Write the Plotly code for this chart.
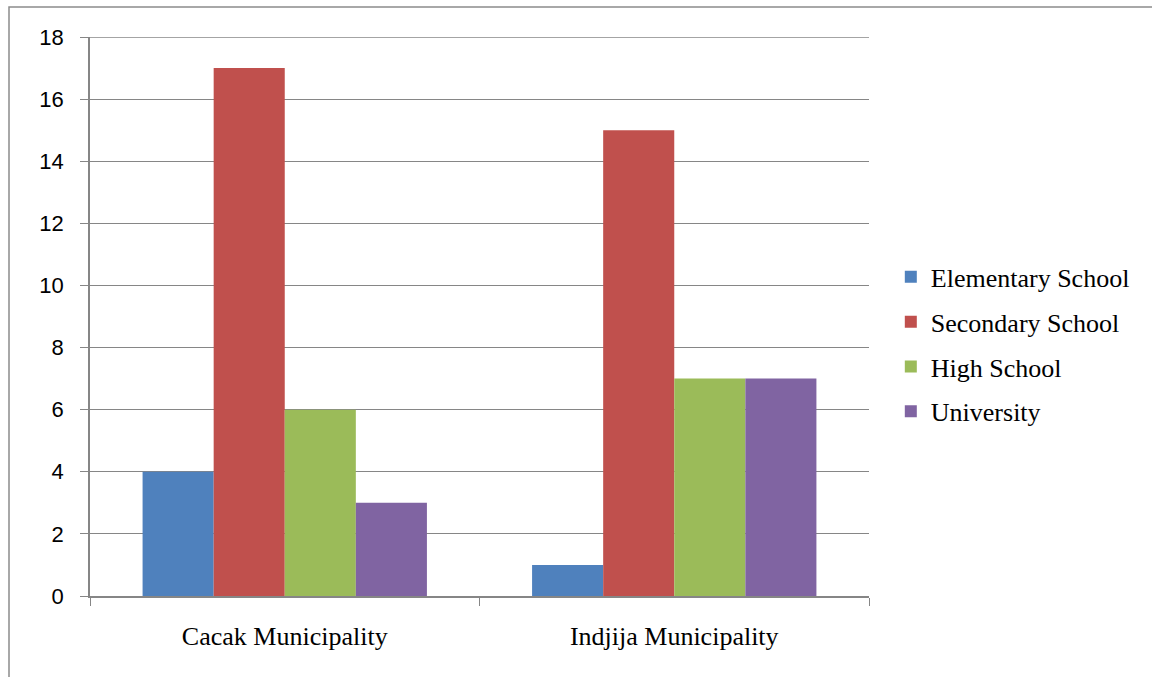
import plotly.graph_objects as go

municipalities = ["Cacak Municipality", "Indjija Municipality"]
series_names = ["Elementary School", "Secondary School", "High School", "University"]
elementary = [4, 1]
secondary = [17, 15]
high_school = [6, 7]
university = [3, 7]
colors = ["#4F81BD", "#C0504D", "#9BBB59", "#8064A2"]
y_max, y_step = 18, 2

values = [elementary, secondary, high_school, university]

fig = go.Figure()
for name, vals, col in zip(series_names, values, colors):
    fig.add_trace(go.Bar(
        x=municipalities, y=vals, name=name, legendgroup=name,
        marker=dict(color=col, line=dict(width=0)),
    ))

W, H = 1152, 677
L, R, T, B = 90, 283, 37, 81
pw, ph = W - L - R, H - T - B

# outer chart frame (left/top edges visible, right/bottom run off the page)
fig.add_shape(
    type="rect", xref="paper", yref="paper",
    x0=(9 - L) / pw, x1=(W + 10 - L) / pw,
    y0=-(H + 10 - (H - B)) / ph, y1=((H - B) - 7) / ph,
    line=dict(color="#8C8C8C", width=1.5), fillcolor="rgba(0,0,0,0)", layer="below",
)
# top gridline at the axis maximum
fig.add_shape(
    type="line", xref="paper", yref="y", x0=0, x1=1, y0=y_max, y1=y_max,
    line=dict(color="#868686", width=1.5), layer="below",
)

fig.update_layout(
    width=W, height=H,
    margin=dict(l=L, r=R, t=T, b=B),
    paper_bgcolor="white", plot_bgcolor="white",
    barmode="group", bargap=0.27, bargroupgap=0,
    showlegend=True,
    legend=dict(
        x=1.028, xanchor="left", y=0.45, yanchor="middle",
        font=dict(family="Liberation Serif", size=26, color="black"),
        tracegroupgap=8, bgcolor="rgba(0,0,0,0)",
    ),
    xaxis=dict(
        showline=True, linecolor="#868686", linewidth=1.5,
        ticks="outside", tickson="boundaries", ticklen=8, tickcolor="#868686",
        tickfont=dict(family="Liberation Serif", size=26, color="black"),
        showgrid=False, ticklabelstandoff=16,
    ),
    yaxis=dict(
        range=[0, y_max], dtick=y_step, tick0=0,
        showline=True, linecolor="#868686", linewidth=1.5,
        ticks="outside", ticklen=8, tickcolor="#868686",
        showgrid=True, gridcolor="#868686", gridwidth=1.2,
        zeroline=False,
        tickfont=dict(family="Liberation Sans", size=22, color="black"),
        ticklabelstandoff=12,
    ),
)

fig.write_html("out.html")
